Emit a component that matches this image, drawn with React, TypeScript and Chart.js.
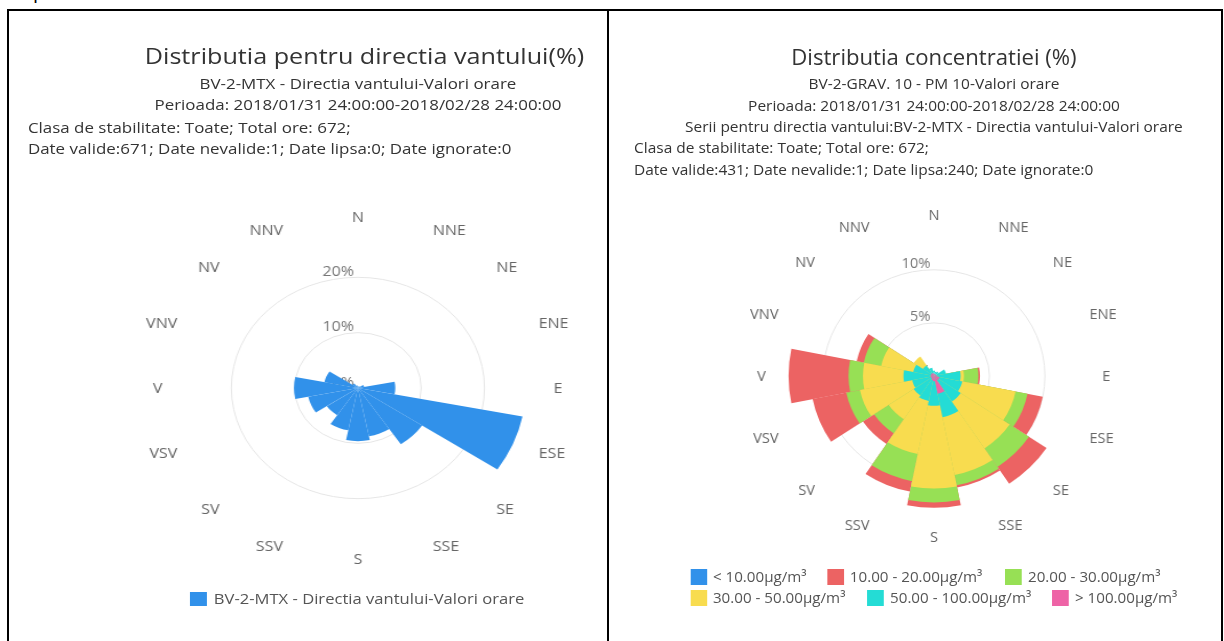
import React, { useEffect, useRef } from 'react';
import { Chart, registerables } from 'chart.js';

Chart.register(...registerables);

// ---------------- data ----------------
const directions = ['N', 'NNE', 'NE', 'ENE', 'E', 'ESE', 'SE', 'SSE', 'S', 'SSV', 'SV', 'VSV', 'V', 'VNV', 'NV', 'NNV'];

const windSeriesName = 'BV-2-MTX - Directia vantului-Valori orare';
const windShare = [0.3, 0.3, 0.4, 1.0, 5.9, 26.5, 12.2, 8.9, 9.6, 7.8, 5.9, 8.0, 10.1, 5.4, 1.0, 0.5];

const concClassNames = [
  '< 10.00µg/m³',
  '10.00 - 20.00µg/m³',
  '20.00 - 30.00µg/m³',
  '30.00 - 50.00µg/m³',
  '50.00 - 100.00µg/m³',
  '> 100.00µg/m³',
];
const concBelow10 = [0, 0, 0, 0, 0, 0, 0, 0, 0, 0, 0, 0, 0, 0, 0, 0];
const conc10to20 = [0, 0, 0, 0, 0.15, 1.4, 1.9, 0.2, 0.5, 1.0, 1.2, 3.1, 5.4, 0.65, 0, 0];
const conc20to30 = [0, 0, 0, 0, 1.3, 1.1, 2.1, 1.0, 1.3, 2.6, 1.6, 1.25, 1.3, 1.6, 0, 0];
const conc30to50 = [0, 0, 0, 0, 0.3, 4.9, 5.3, 5.55, 7.8, 5.1, 2.7, 4.8, 3.65, 2.95, 1.0, 0];
const conc50to100 = [0.3, 0.2, 0.3, 0.9, 2.1, 2.1, 2.4, 2.25, 2.3, 2.0, 1.9, 1.7, 2.45, 1.6, 0.9, 0.5];
const concAbove100 = [0.2, 0.2, 0.2, 0.2, 0.3, 0.5, 0.5, 1.7, 0.5, 0.4, 0.3, 0.3, 0.3, 0.3, 0.3, 0.3];

const leftTitle = 'Distributia pentru directia vantului(%)';
const leftSubtitles = ['BV-2-MTX - Directia vantului-Valori orare', 'Perioada: 2018/01/31 24:00:00-2018/02/28 24:00:00'];
const leftInfo = ['Clasa de stabilitate: Toate; Total ore: 672;', 'Date valide:671; Date nevalide:1; Date lipsa:0; Date ignorate:0'];

const rightTitle = 'Distributia concentratiei (%)';
const rightSubtitles = [
  'BV-2-GRAV. 10 - PM 10-Valori orare',
  'Perioada: 2018/01/31 24:00:00-2018/02/28 24:00:00',
  'Serii pentru directia vantului:BV-2-MTX - Directia vantului-Valori orare',
];
const rightInfo = ['Clasa de stabilitate: Toate; Total ore: 672;', 'Date valide:431; Date nevalide:1; Date lipsa:240; Date ignorate:0'];

// ---------------- styles ----------------
const FONT = '"Open Sans", "DejaVu Sans", sans-serif';
const windColor = '#3191ea';
const concColors = ['#3191ea', '#ec6363', '#97e055', '#f8dc4f', '#24dcd5', '#ee63a6'];

// ---------------- plugin: axis texts ----------------
const roseText = {
  id: 'roseText',
  beforeDatasetsDraw(chart: any) {
    const sc = chart.scales.r;
    const ctx = chart.ctx;
    ctx.save();
    ctx.font = `14px ${FONT}`;
    ctx.fillStyle = '#777777';
    ctx.textAlign = 'right';
    ctx.textBaseline = 'alphabetic';
    sc.ticks.forEach((t: any) => {
      const y = sc.yCenter - sc.getDistanceFromCenterForValue(t.value);
      ctx.fillText(String(t.label), sc.xCenter - 3.5, y - 1.5);
    });
    ctx.restore();
  },
  afterDraw(chart: any) {
    const sc = chart.scales.r;
    const ctx = chart.ctx;
    const labels = chart.data.labels as string[];
    const n = labels.length;
    ctx.save();
    ctx.font = `14px ${FONT}`;
    ctx.fillStyle = '#666666';
    ctx.textBaseline = 'middle';
    labels.forEach((lab, i) => {
      const a = sc.getIndexAngle(i) + Math.PI / n;
      const deg = (i * 360) / n;
      const x = sc.xCenter + sc.drawingArea * Math.sin(a);
      const y = sc.yCenter - sc.drawingArea * Math.cos(a);
      ctx.textAlign = deg === 0 || deg === 180 ? 'center' : deg < 180 ? 'left' : 'right';
      ctx.fillText(lab, x, y + 1);
    });
    ctx.restore();
  },
};

function roseOptions(max: number, step: number, lastTick: number, padding: any) {
  return {
    responsive: false,
    animation: false,
    layout: { padding },
    plugins: { legend: { display: false }, tooltip: { enabled: false } },
    scales: {
      r: {
        min: 0,
        max,
        startAngle: -11.25,
        ticks: { display: false, stepSize: step, callback: (v: any) => `${v}%` },
        afterBuildTicks: (scale: any) => {
          scale.ticks = scale.ticks.filter((t: any) => t.value <= lastTick);
        },
        grid: { circular: true, color: '#e6e6e6', lineWidth: 1 },
        angleLines: { display: false },
        pointLabels: { display: false },
      },
    },
  };
}

function buildWindChart(): any {
  return {
    type: 'polarArea',
    data: {
      labels: directions,
      datasets: [
        {
          label: windSeriesName,
          data: windShare,
          backgroundColor: windColor,
          borderWidth: 0,
          angle: 22.5,
        },
      ],
    },
    options: roseOptions(30.9, 10, 20, { left: 134, top: 217, right: 46, bottom: 82 }),
    plugins: [roseText],
  };
}

function buildConcChart(): any {
  // classes from the centre outwards
  const inner = [concAbove100, conc50to100, conc30to50, conc20to30, conc10to20, concBelow10];
  const order = [5, 4, 3, 2, 1, 0];
  const running = directions.map(() => 0);
  const datasets = inner.map((vals, k) => {
    const data = vals.map((v, i) => {
      running[i] += v;
      return v > 0 ? +running[i].toFixed(3) : 0;
    });
    return {
      label: concClassNames[order[k]],
      data,
      backgroundColor: concColors[order[k]],
      borderWidth: 0,
      angle: 22.5,
    };
  });
  return {
    type: 'polarArea',
    data: { labels: directions, datasets },
    options: roseOptions(15.16, 5, 10, { left: 149, top: 215, right: 113, bottom: 103 }),
    plugins: [roseText],
  };
}

function RoseCanvas({ build, width, height }: { build: () => any; width: number; height: number }) {
  const ref = useRef<HTMLCanvasElement | null>(null);
  useEffect(() => {
    const chart = new Chart(ref.current as HTMLCanvasElement, build());
    return () => chart.destroy();
  }, [build]);
  return (
    <canvas
      ref={ref}
      width={width}
      height={height}
      style={{ position: 'absolute', left: 0, top: 0, width: `${width}px`, height: `${height}px` }}
    />
  );
}

function Line({ text, cy, size, color, center, left, lh }: any) {
  const style: React.CSSProperties = {
    position: 'absolute',
    top: cy - lh / 2,
    height: lh,
    lineHeight: `${lh}px`,
    fontSize: size,
    color,
    fontFamily: FONT,
    whiteSpace: 'nowrap',
  };
  if (center !== undefined) {
    style.left = center - 400;
    style.width = 800;
    style.textAlign = 'center';
  } else {
    style.left = left;
  }
  return <div style={style}>{text}</div>;
}

function LegendItem({ x, cy, color, text, bw, bh }: any) {
  return (
    <>
      <div style={{ position: 'absolute', left: x, top: cy - bh / 2, width: bw, height: bh, background: color }} />
      <Line text={text} cy={cy} size={14.5} color="#555555" left={x + bw + 6} lh={20} />
    </>
  );
}

export default function App() {
  const lcx = 305; // left chart centre (unstretched)
  const rcx = 310;
  const rightLegendRows = [
    { cy: 577, items: [0, 1, 2], xs: [76.5, 207.5, 378] },
    { cy: 598, items: [3, 4, 5], xs: [76.5, 246, 423] },
  ];
  return (
    <div style={{ position: 'absolute', left: 0, top: 0, width: 1224, height: 641, overflow: 'hidden', background: '#fff' }}>
      {/* clipped glyph of a heading above the table */}
      <div style={{ position: 'absolute', left: 33, top: -19, fontSize: 20, lineHeight: '20px', fontFamily: FONT, color: '#000' }}>p</div>

      {/* left panel */}
      <div style={{ position: 'absolute', left: 9, top: 0, width: 522, height: 641, transform: 'scaleX(1.144)', transformOrigin: '0 0' }}>
        <Line text={leftTitle} cy={55} size={22} color="#333333" center={lcx + 5.7} lh={28} />
        {leftSubtitles.map((t, i) => (
          <Line key={t} text={t} cy={83 + i * 21} size={14.8} color="#333333" center={lcx} lh={20} />
        ))}
        {leftInfo.map((t, i) => (
          <Line key={t} text={t} cy={127 + i * 21} size={14.8} color="#333333" left={16.5} lh={20} />
        ))}
        <RoseCanvas build={buildWindChart} width={522} height={641} />
        <LegendItem x={158} cy={598.5} color={windColor} text={windSeriesName} bw={15} bh={14} />
      </div>

      {/* right panel */}
      <div style={{ position: 'absolute', left: 610, top: 0, width: 585, height: 641, transform: 'scaleX(1.045)', transformOrigin: '0 0' }}>
        <Line text={rightTitle} cy={57} size={21.2} color="#333333" center={rcx} lh={28} />
        {rightSubtitles.map((t, i) => (
          <Line key={t} text={t} cy={83 + i * 21.5} size={14.8} color="#333333" center={rcx} lh={20} />
        ))}
        {rightInfo.map((t, i) => (
          <Line key={t} text={t} cy={147 + i * 22} size={14.8} color="#333333" left={23} lh={20} />
        ))}
        <RoseCanvas build={buildConcChart} width={585} height={641} />
        {rightLegendRows.map((row) =>
          row.items.map((k, j) => (
            <LegendItem key={k} x={row.xs[j]} cy={row.cy} color={concColors[k]} text={concClassNames[k]} bw={16} bh={16} />
          ))
        )}
      </div>

      {/* table borders */}
      <div style={{ position: 'absolute', left: 7, top: 9, width: 1212, height: 700, border: '2px solid #000' }} />
      <div style={{ position: 'absolute', left: 607, top: 9, width: 2, height: 700, background: '#000' }} />
    </div>
  );
}
